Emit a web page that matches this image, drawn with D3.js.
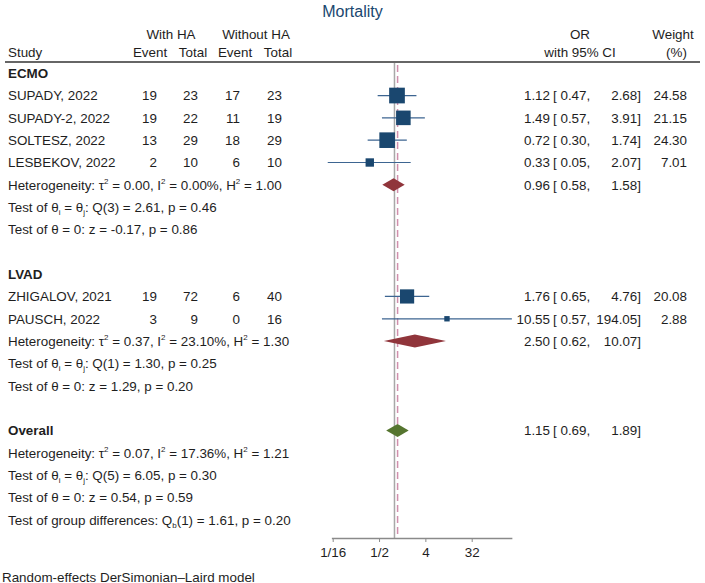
<!DOCTYPE html>
<html>
<head>
<meta charset="utf-8">
<script src="https://cdn.jsdelivr.net/npm/d3@7"></script>
<style>
  body { margin: 0; background: #fff; }
  text { font-family: "Liberation Sans", Arial, sans-serif; font-size: 13.4px; fill: #1e1e1e; }
</style>
</head>
<body>
<div id="chart"></div>
<script>
// study level data
var studies  = ["SUPADY, 2022", "SUPADY-2, 2022", "SOLTESZ, 2022", "LESBEKOV, 2022", "ZHIGALOV, 2021", "PAUSCH, 2022"];
var groupOf  = ["ECMO", "ECMO", "ECMO", "ECMO", "LVAD", "LVAD"];
var eventHA  = [19, 19, 13, 2, 19, 3];
var totalHA  = [23, 22, 29, 10, 72, 9];
var eventNo  = [17, 11, 18, 6, 6, 0];
var totalNo  = [23, 19, 29, 10, 40, 16];
var orEst    = [1.12, 1.49, 0.72, 0.33, 1.76, 10.55];
var orLo     = [0.47, 0.57, 0.30, 0.05, 0.65, 0.57];
var orHi     = [2.68, 3.91, 1.74, 2.07, 4.76, 194.05];
var weights  = [24.58, 21.15, 24.30, 7.01, 20.08, 2.88];

// pooled estimates (ECMO, LVAD, Overall)
var groups   = ["ECMO", "LVAD", "Overall"];
var poolEst  = [0.96, 2.50, 1.15];
var poolLo   = [0.58, 0.62, 0.69];
var poolHi   = [1.58, 10.07, 1.89];
var tau2     = [0.00, 0.37, 0.07];
var i2       = [0.00, 23.10, 17.36];
var h2       = [1.00, 1.30, 1.21];
var qDf      = [3, 1, 5];
var qVal     = [2.61, 1.30, 6.05];
var qP       = [0.46, 0.25, 0.30];
var zVal     = [-0.17, 1.29, 0.54];
var zP       = [0.86, 0.20, 0.59];
var qbDf = 1, qbVal = 1.61, qbP = 0.20;

// axis
var tickValues = [1/16, 1/2, 4, 32];
var tickLabels = ["1/16", "1/2", "4", "32"];
var axisLo = 0.0589, axisHi = 194.05;

var width = 705, height = 583;
function f2(v) { return v.toFixed(2); } // plain hyphen minus like the original

var svg = d3.select("#chart").append("svg")
    .attr("width", width)
    .attr("height", height);

// rows: build the layout list from the arrays
var rows = [];
groups.forEach(function (g, gi) {
    rows.push({ type: "group", label: g, gi: gi });
    if (g !== "Overall") {
        studies.forEach(function (s, i) {
            if (groupOf[i] === g) rows.push({ type: "study", i: i });
        });
    }
    rows.push({ type: "het", gi: gi });
    rows.push({ type: "q", gi: gi });
    rows.push({ type: "z", gi: gi });
    if (g !== "Overall") rows.push({ type: "blank" });
});
rows.push({ type: "qb" });

var yScale = d3.scaleLinear().domain([0, rows.length - 1]).range([78, 524.5]);
function yc(r) { return yScale(r) - 4.8; }

var xBase = d3.scaleLog().base(2).domain([1/16, 32]).range([332.7, 471.7]);
var x = xBase.copy().domain([axisLo, axisHi]).range([xBase(axisLo), xBase(axisHi)]);
var axisY = 538;

// title
svg.append("text")
    .attr("x", 352.5).attr("y", 16.5)
    .attr("text-anchor", "middle")
    .style("font-size", "16px")
    .style("fill", "#1a476f")
    .text("Mortality");

// column headers
var hdr = [
    ["With HA", 171, 38.7], ["Without HA", 256, 38.7], ["OR", 580, 38.7], ["Weight", 673, 38.7],
    ["Event", 150, 56.7], ["Total", 193, 56.7], ["Event", 235, 56.7], ["Total", 278, 56.7],
    ["with 95% CI", 580, 56.7], ["(%)", 676.5, 56.7]
];
svg.append("text").attr("x", 8).attr("y", 56.7).text("Study");
hdr.forEach(function (h) {
    svg.append("text").attr("x", h[1]).attr("y", h[2]).attr("text-anchor", "middle").text(h[0]);
});
svg.append("line")
    .attr("x1", 5).attr("x2", 700).attr("y1", 62).attr("y2", 62)
    .attr("stroke", "#666").attr("stroke-width", 2);

// reference lines
svg.append("line")
    .attr("x1", x(1)).attr("x2", x(1)).attr("y1", 63).attr("y2", axisY)
    .attr("stroke", "#a8a8a8").attr("stroke-width", 1.5);
svg.append("line")
    .attr("x1", x(poolEst[2])).attr("x2", x(poolEst[2])).attr("y1", 65).attr("y2", axisY)
    .attr("stroke", "#d08fac").attr("stroke-width", 1.5)
    .attr("stroke-dasharray", "7,4");

// helper for text with sub/superscripts: parts = [[text, "sup"|"sub"|null], ...]
function richText(y, parts) {
    var t = svg.append("text").attr("x", 8).attr("y", y);
    var back = 0; // shift to undo on the next tspan
    parts.forEach(function (p) {
        var ts = t.append("tspan").text(p[0]);
        var dy = back;
        back = 0;
        if (p[1] === "sup") { dy += -5.5; back = 5.5; ts.style("font-size", "8px"); }
        if (p[1] === "sub") { dy += 3; back = -3; ts.style("font-size", "8px"); }
        if (dy !== 0) ts.attr("dy", dy);
    });
    return t;
}

function orText(y, est, lo, hi) {
    svg.append("text").attr("x", 550).attr("y", y).attr("text-anchor", "end").text(f2(est));
    svg.append("text").attr("x", 553).attr("y", y).text("[ " + f2(lo) + ",");
    svg.append("text").attr("x", 641).attr("y", y).attr("text-anchor", "end").text(f2(hi) + "]");
}

var diamondCol = ["#90353b", "#90353b", "#55752f"];

function diamond(r, gi) {
    var cy = yc(r), hh = 6.5;
    svg.append("path")
        .attr("d", "M" + x(poolLo[gi]) + "," + cy +
                   "L" + x(poolEst[gi]) + "," + (cy - hh) +
                   "L" + x(poolHi[gi]) + "," + cy +
                   "L" + x(poolEst[gi]) + "," + (cy + hh) + "Z")
        .attr("fill", diamondCol[gi]);
}

var markSize = d3.scaleSqrt().domain([0, d3.max(weights)]).range([0, 15.7]);

rows.forEach(function (row, r) {
    var y = yScale(r);
    if (row.type === "group") {
        svg.append("text").attr("x", 8).attr("y", y).style("font-weight", "bold").text(row.label);
        if (row.label === "Overall") {
            orText(y, poolEst[row.gi], poolLo[row.gi], poolHi[row.gi]);
            diamond(r, row.gi);
        }
    } else if (row.type === "study") {
        var i = row.i;
        svg.append("text").attr("x", 8).attr("y", y).text(studies[i]);
        [[eventHA, 157], [totalHA, 198], [eventNo, 240], [totalNo, 282]].forEach(function (c) {
            svg.append("text").attr("x", c[1]).attr("y", y).attr("text-anchor", "end").text(c[0][i]);
        });
        orText(y, orEst[i], orLo[i], orHi[i]);
        svg.append("text").attr("x", 687).attr("y", y).attr("text-anchor", "end").text(f2(weights[i]));
        // CI line + weighted square
        svg.append("line")
            .attr("x1", x(orLo[i])).attr("x2", x(Math.min(orHi[i], axisHi)))
            .attr("y1", yc(r)).attr("y2", yc(r))
            .attr("stroke", "#3d6591").attr("stroke-width", 1.2);
        var s = markSize(weights[i]);
        svg.append("rect")
            .attr("x", x(orEst[i]) - s / 2).attr("y", yc(r) - s / 2)
            .attr("width", s).attr("height", s)
            .attr("fill", "#1a476f");
    } else if (row.type === "het") {
        var g = row.gi;
        richText(y, [["Heterogeneity: τ"], ["2", "sup"], [" = " + f2(tau2[g]) + ", I"], ["2", "sup"],
            [" = " + f2(i2[g]) + "%, H"], ["2", "sup"], [" = " + f2(h2[g])]]);
        if (groups[g] !== "Overall") {
            orText(y, poolEst[g], poolLo[g], poolHi[g]);
            diamond(r, g);
        }
    } else if (row.type === "q") {
        var g2 = row.gi;
        richText(y, [["Test of θ"], ["i", "sub"], [" = θ"], ["j", "sub"],
            [": Q(" + qDf[g2] + ") = " + f2(qVal[g2]) + ", p = " + f2(qP[g2])]]);
    } else if (row.type === "z") {
        svg.append("text").attr("x", 8).attr("y", y)
            .text("Test of θ = 0: z = " + f2(zVal[row.gi]) + ", p = " + f2(zP[row.gi]));
    } else if (row.type === "qb") {
        richText(y, [["Test of group differences: Q"], ["b", "sub"],
            ["(" + qbDf + ") = " + f2(qbVal) + ", p = " + f2(qbP)]]);
    }
});

// x axis
var xAxis = d3.axisBottom(x)
    .tickValues(tickValues)
    .tickFormat(function (d, i) { return tickLabels[i]; })
    .tickSize(4)
    .tickSizeOuter(0);
var xAxisG = svg.append("g")
    .attr("transform", "translate(0," + axisY + ")")
    .call(xAxis);
xAxisG.select(".domain").attr("stroke", "#8a8a8a").attr("stroke-width", 1.5);
xAxisG.selectAll(".tick line").attr("stroke", "#8a8a8a");
xAxisG.selectAll(".tick text")
    .attr("dy", null).attr("y", 19)
    .style("font-size", "13.4px")
    .style("font-family", "'Liberation Sans', Arial, sans-serif")
    .attr("fill", "#1e1e1e");

svg.append("text")
    .attr("x", 2).attr("y", 581.5)
    .text("Random-effects DerSimonian–Laird model");
</script>
</body>
</html>
